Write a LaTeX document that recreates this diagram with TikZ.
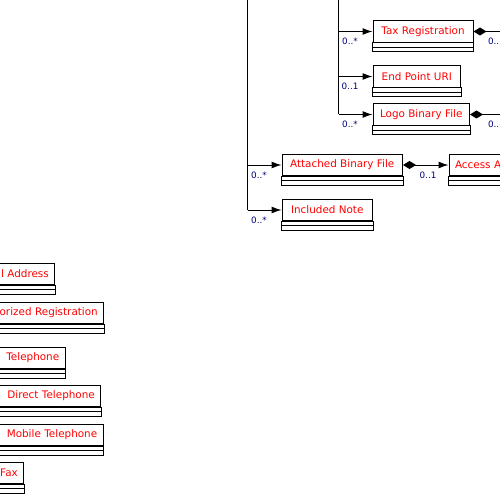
\documentclass[tikz,border=0pt]{standalone}
\usepackage{fontspec}
\setmainfont{DejaVu Sans}
\usetikzlibrary{arrows.meta}
\definecolor{multblue}{RGB}{0,0,128}

\begin{document}
\begin{tikzpicture}[x=1pt, y=-1pt, line width=1pt,
    every node/.style={font=\fontsize{10.4}{12}\selectfont},
    cls/.style={draw, fill=white, text=red, anchor=west, inner xsep=6pt, inner ysep=0pt,
        minimum height=21.5pt, minimum width=#1pt},
    cutcls/.style={cls=10, anchor=east, text width=#1pt, align=right},
    mult/.style={font=\fontsize{8.8}{10}\selectfont, text=multblue, inner sep=0pt},
    Nav/.tip={Latex[length=10pt, width=7pt]},
    Dia/.tip={Diamond[length=13pt, width=8pt]}]
                    \useasboundingbox (0,0) rectangle (500,500);
                    \clip (0,0) rectangle (500,500);
                    
                    % 右上的类
                    \node[cls=100] (tax) at (372.5,31.5) {Tax Registration};
                    \node[cls=87.5] (uri) at (372.5,76.5) {End Point URI};
                    \node[cls=96.5] (logo) at (372.5,114.5) {Logo Binary File};
                    \node[cls=120.5] (att) at (281.5,165) {Attached Binary File};
                    \node[cls=90.5] (note) at (281.5,210) {Included Note};
                    \node[cls=10, text width=60pt, align=left] (acc) at (448.5,165) {Access A};
                    
                    % 左下的类
                    \node[cutcls=53.3] (addr) at (55.3,274) {l Address};
                    \node[cutcls=102.3] (reg) at (104.3,313) {orized Registration};
                    \node[cutcls=63.7] (tel) at (65.7,358) {Telephone};
                    \node[cutcls=99.3] (dtel) at (101.3,396) {Direct Telephone};
                    \node[cutcls=101.7] (mtel) at (103.7,435) {Mobile Telephone};
                    \node[cutcls=22.3] (fax) at (24.3,473) {Fax};
                    
                    % 空的属性栏和操作栏
                    \foreach \n in {tax,uri,logo,att,note,acc,addr,reg,tel,dtel,mtel,fax} {
                        \draw (\n.south west) rectangle ([yshift=-9pt]\n.south east);
                        \draw ([yshift=-4.5pt]\n.south west) -- ([yshift=-4.5pt]\n.south east);
                    }
                    
                    % 竖线和关联
                    \coordinate (ta) at (247.5,0);
                    \coordinate (tb) at (338.5,0);
                    \coordinate (edge) at (510,0);
                    \draw (ta) -- (ta |- note.west);
                    \draw (tb) -- (tb |- logo.west);
                    \foreach \n in {tax,uri,logo}
                        \draw[-Nav] (tb |- \n.west) -- (\n.west);
                    \foreach \n in {att,note}
                        \draw[-Nav] (ta |- \n.west) -- (\n.west);
                    \draw[Dia-Nav] (att.east) -- (acc.west);
                    \draw[Dia-] (tax.east) -- (tax.east -| edge);
                    \draw[Dia-] (logo.east) -- (logo.east -| edge);
                    
                    % 多重性
                    \node[mult] (m1) at (350,41) {0..*};
                    \node[mult] (m2) at (350,86) {0..1};
                    \node[mult] (m3) at (350,124.5) {0..*};
                    \node[mult] (m4) at (259,175) {0..*};
                    \node[mult] (m5) at (259,220) {0..*};
                    \node[mult] (m6) at (428,175) {0..1};
                    \node[mult, anchor=west] (m7) at (487.5,41.5) {0..};
                    \node[mult, anchor=west] (m8) at (487.5,124) {0..};
                \end{tikzpicture}
\end{document}
